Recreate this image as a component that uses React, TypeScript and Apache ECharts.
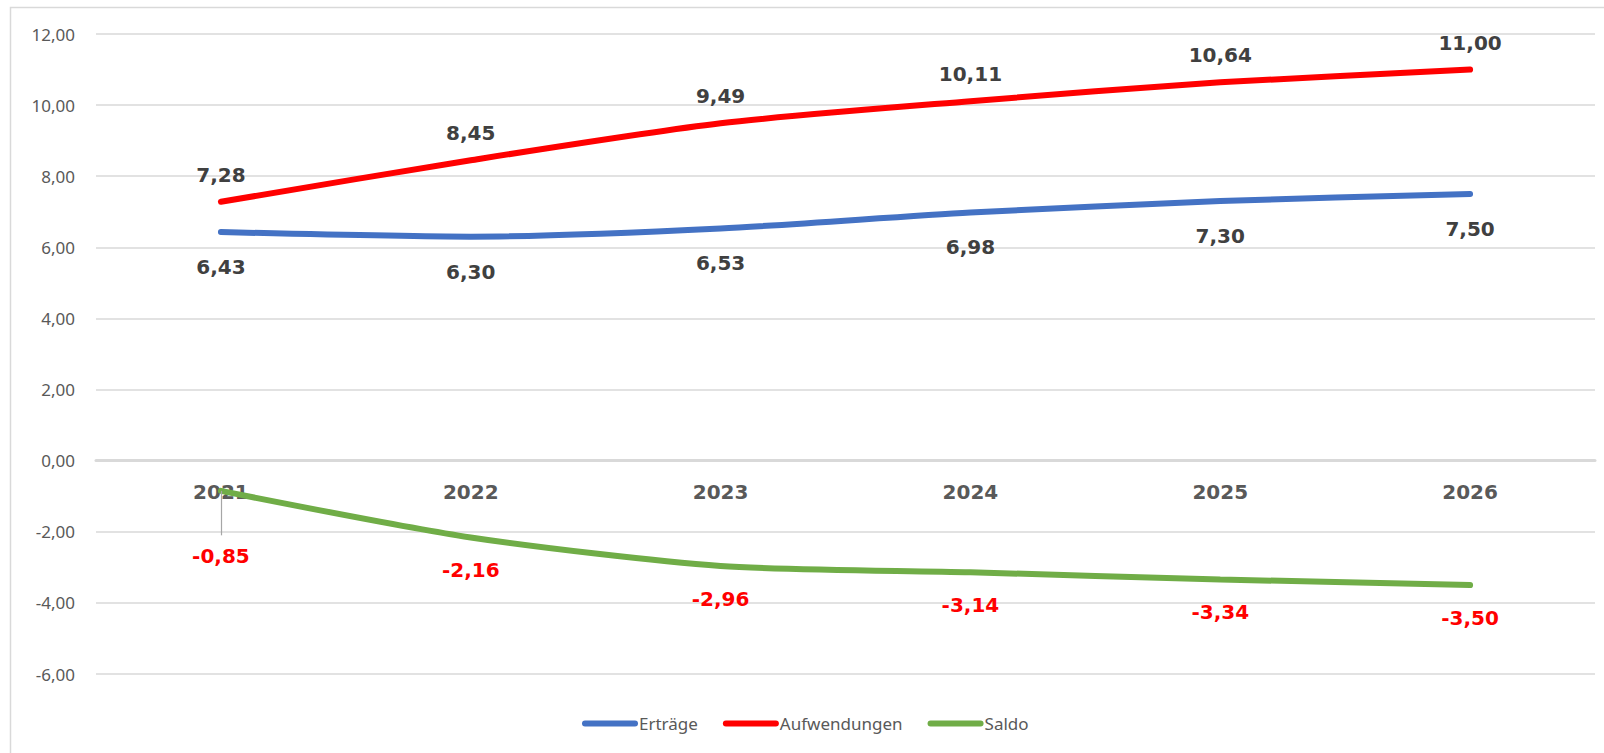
import React, { useEffect, useRef } from "react";
import * as echarts from "echarts";

const years = ["2021", "2022", "2023", "2024", "2025", "2026"];
const ertraege = [6.43, 6.3, 6.53, 6.98, 7.3, 7.5];
const aufwendungen = [7.28, 8.45, 9.49, 10.11, 10.64, 11.0];
const saldo = [-0.85, -2.16, -2.96, -3.14, -3.34, -3.5];
const axisBase = [0, 0, 0, 0, 0, 0];

const fmt = (v: number) => v.toFixed(2).replace(".", ",");

export default function App() {
  const ref = useRef<HTMLDivElement>(null);
  useEffect(() => {
    const chart = echarts.init(ref.current!, undefined, { renderer: "svg" });
    const labelFont = {
      fontFamily: "DejaVu Sans",
      fontWeight: "bold" as const,
      fontSize: 20,
    };
    const lineCommon = {
      type: "line",
      smooth: 0.25,
      symbol: "circle",
      symbolSize: 0,
      showSymbol: true,
      z: 3,
    };
    chart.setOption({
      animation: false,
      backgroundColor: "#ffffff",
      graphic: [
        {
          type: "rect",
          shape: { x: 10.5, y: 7.5, width: 1620, height: 800 },
          style: { fill: "none", stroke: "#d9d9d9", lineWidth: 1.5 },
          silent: true,
        },
      ],
      grid: { left: 96, right: 9, top: 34, bottom: 79, containLabel: false },
      legend: {
        left: 577,
        top: 710,
        itemWidth: 56,
        itemHeight: 6,
        itemGap: 25,
        icon: "path://M3,0 H53 A3,3 0 0 1 53,6 H3 A3,3 0 0 1 3,0 Z",
        textStyle: {
          fontFamily: "Noto Sans",
          fontSize: 17,
          color: "#595959",
          padding: [0, 0, 0, -4],
        },
        data: ["Erträge", "Aufwendungen", "Saldo"],
      },
      xAxis: {
        type: "category",
        data: years,
        axisLine: { onZero: true, lineStyle: { color: "#d9d9d9", width: 3 } },
        axisTick: { show: false },
        axisLabel: { show: false },
      },
      yAxis: {
        type: "value",
        min: -6,
        max: 12,
        interval: 2,
        axisLine: { show: false },
        axisTick: { show: false },
        splitLine: { lineStyle: { color: "#d9d9d9", width: 1.5 } },
        axisLabel: {
          fontFamily: "Noto Sans",
          fontSize: 17,
          color: "#595959",
          margin: 21,
          formatter: (v: number) => fmt(v),
        },
      },
      series: [
        {
          name: "axisLabels",
          type: "line",
          data: axisBase,
          symbol: "circle",
          symbolSize: 0,
          showSymbol: true,
          lineStyle: { width: 0, opacity: 0 },
          silent: true,
          z: 1,
          label: {
            show: true,
            position: "bottom",
            distance: 21,
            ...labelFont,
            color: "#595959",
            formatter: (p: any) => years[p.dataIndex],
          },
        },
        {
          ...lineCommon,
          name: "Erträge",
          data: ertraege,
          color: "#4472C4",
          lineStyle: { width: 6, cap: "round", color: "#4472C4" },
          label: {
            show: true,
            position: "bottom",
            distance: 25,
            ...labelFont,
            color: "#404040",
            formatter: (p: any) => fmt(p.value),
          },
        },
        {
          ...lineCommon,
          name: "Aufwendungen",
          data: aufwendungen,
          color: "#FF0000",
          lineStyle: { width: 6, cap: "round", color: "#FF0000" },
          label: {
            show: true,
            position: "top",
            distance: 17,
            ...labelFont,
            color: "#404040",
            formatter: (p: any) => fmt(p.value),
          },
        },
        {
          ...lineCommon,
          name: "Saldo",
          data: saldo,
          color: "#70AD47",
          lineStyle: { width: 6, cap: "round", color: "#70AD47" },
          label: {
            show: true,
            position: "bottom",
            distance: 23,
            ...labelFont,
            color: "#FF0000",
            formatter: (p: any) => fmt(p.value),
          },
          labelLayout: (params: any) =>
            params.dataIndex === 0 ? { dy: 32 } : {},
          markLine: {
            silent: true,
            symbol: "none",
            label: { show: false },
            lineStyle: { color: "#a6a6a6", width: 1.2, type: "solid" },
            data: [
              [
                { coord: [0, saldo[0]] },
                { coord: [0, saldo[0] - 1.25] },
              ],
            ],
          },
        },
      ],
    });
    return () => chart.dispose();
  }, []);
  return (
    <div
      ref={ref}
      style={{ position: "fixed", left: 0, top: 0, width: 1604, height: 753 }}
    />
  );
}
